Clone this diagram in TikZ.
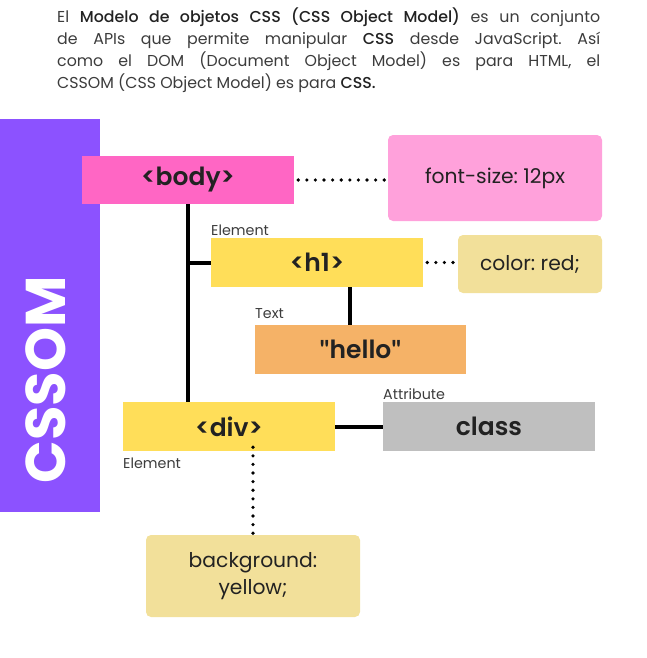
\documentclass[tikz,border=0pt]{standalone}
\usepackage{fontspec}
\setmainfont{Poppins}
\newfontfamily\introfont{Poppins}[BoldFont={Poppins Medium}]
\newfontfamily\tagfont{Poppins SemiBold}
\newfontfamily\quotefont{Lato}
\frenchspacing
\begin{document}
\definecolor{cssPurple}{HTML}{8C52FF}
\definecolor{bodyPink}{HTML}{FF66C4}
\definecolor{softPink}{HTML}{FFA1DB}
\definecolor{tagYellow}{HTML}{FFDE59}
\definecolor{paleYellow}{HTML}{F2E09A}
\definecolor{textOrange}{HTML}{F5B267}
\definecolor{attrGray}{HTML}{BFBFBF}
\definecolor{inkDark}{HTML}{222222}
\definecolor{inkGray}{HTML}{3C3C3C}
\begin{tikzpicture}[x=1pt,y=-1pt,
  tagbox/.style={rectangle, inner sep=0pt, text=inkDark,
    font=\tagfont\fontsize{25}{27}\selectfont},
  rulebox/.style={rectangle, rounded corners=5pt, inner sep=0pt, text=inkDark,
    align=center, font=\fontsize{20.3}{26.5}\selectfont},
  kind/.style={inner sep=0pt, text=inkGray, font=\fontsize{14.3}{16}\selectfont},
  tree/.style={line width=4pt, black},
  dots/.style={line width=3.6pt, black, line cap=round, dash pattern=on 0pt off 8.6pt}]
\useasboundingbox (0,0) rectangle (647,658);

% intro paragraph
\node[anchor=north west, inner sep=0pt, text width=543pt, align=justify,
  text=inkGray, font=\introfont\fontsize{15.8}{21.7}\selectfont] (intro) at (57,8)
  {El {\color{inkDark}\bfseries Modelo de objetos CSS (CSS Object Model)} es un conjunto\linebreak
   de APIs que permite manipular {\color{inkDark}\bfseries CSS} desde JavaScript. Así\linebreak
   como el DOM (Document Object Model) es para HTML, el\linebreak
   CSSOM (CSS Object Model) es para {\color{inkDark}\bfseries CSS.}};

% side banner
\fill[cssPurple] (0,119) rectangle (100,512);
\node[rotate=90, text=white, inner sep=0pt,
  font=\bfseries\fontsize{56}{56}\selectfont] (banner) at (46,380) {CSSOM};

% element nodes
\node[tagbox, fill=bodyPink, minimum width=212pt, minimum height=48pt] (body) at (188,180) {<body>};
\node[tagbox, fill=tagYellow, minimum width=212pt, minimum height=49pt] (h1) at (317,262.5) {<h1>};
\node[tagbox, fill=textOrange, minimum width=211pt, minimum height=49pt] (hello) at (360.5,349.5)
  {{\quotefont\bfseries\symbol{34}}hello{\quotefont\bfseries\symbol{34}}};
\node[tagbox, fill=tagYellow, minimum width=212pt, minimum height=49pt] (div) at (229,426.5) {<div>};
\node[tagbox, fill=attrGray, minimum width=212pt, minimum height=49pt] (class) at (489,426.5) {class};

% style rules
\node[rulebox, fill=softPink, minimum width=214pt, minimum height=86pt] (fs) at (495,178) {font-size: 12px};
\node[rulebox, fill=paleYellow, minimum width=144pt, minimum height=58pt] (cr) at (530,264) {color: red;};
\node[rulebox, fill=paleYellow, minimum width=214pt, minimum height=82pt] (bg) at (253,576) {background:\\yellow;};

% node kinds
\node[kind, anchor=base west] (k1) at (211,235) {Element};
\node[kind, anchor=base west] (k2) at (255,318) {Text};
\node[kind, anchor=base west] (k3) at (383,399) {Attribute};
\node[kind, anchor=base west] (k4) at (123,468) {Element};

% tree connectors
\draw[tree] (body.south) -- (body.south |- div.north);
\draw[tree] (body.south |- h1.west) -- (h1.west);
\draw[tree] ([xshift=33pt]h1.south) -- ([xshift=33pt]h1.south |- hello.north);
\draw[tree] (div.east) -- (class.west);

% style links
\draw[dots] ([xshift=4pt]body.east) -- ([xshift=-3pt]body.east -| fs.west);
\draw[dots] ([xshift=4pt]h1.east) -- ([xshift=-3pt]h1.east -| cr.west);
\draw[dots] ([xshift=24pt,yshift=4pt]div.south) -- ([xshift=24pt,yshift=-3pt]div.south |- bg.north);
\end{tikzpicture}
\end{document}
